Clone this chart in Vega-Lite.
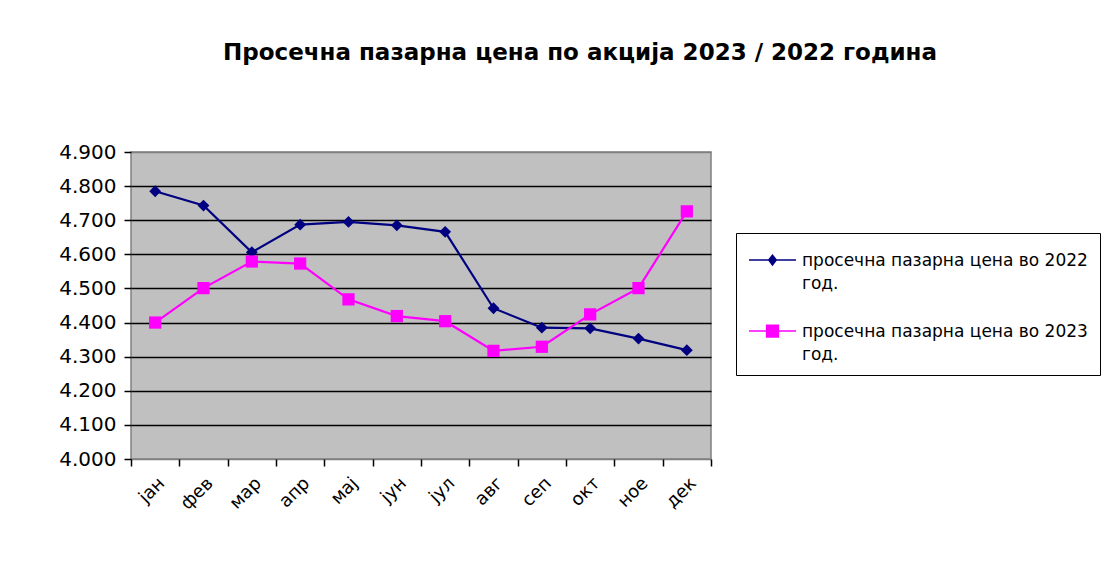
{
  "$schema": "https://vega.github.io/schema/vega-lite/v6.json",
  "width": 580,
  "height": 307,
  "autosize": {"type": "none"},
  "padding": {"left": 131, "top": 152, "right": 395, "bottom": 113},
  "background": "white",
  "title": {
    "text": "Просечна пазарна цена по акција 2023 / 2022 година",
    "font": "DejaVu Sans",
    "fontSize": 23,
    "fontWeight": "bold",
    "color": "black",
    "anchor": "middle",
    "frame": "group",
    "dx": 159,
    "baseline": "alphabetic",
    "offset": 59
  },
  "config": {
    "view": {"fill": "#c0c0c0", "stroke": "#808080", "strokeWidth": 1.5},
    "font": "DejaVu Sans"
  },
  "data": {
    "values": [
      {"month": "јан", "series": "просечна пазарна цена во 2022 год.", "value": 4.785},
      {"month": "фев", "series": "просечна пазарна цена во 2022 год.", "value": 4.743},
      {"month": "мар", "series": "просечна пазарна цена во 2022 год.", "value": 4.606},
      {"month": "апр", "series": "просечна пазарна цена во 2022 год.", "value": 4.687},
      {"month": "мај", "series": "просечна пазарна цена во 2022 год.", "value": 4.695},
      {"month": "јун", "series": "просечна пазарна цена во 2022 год.", "value": 4.685},
      {"month": "јул", "series": "просечна пазарна цена во 2022 год.", "value": 4.666},
      {"month": "авг", "series": "просечна пазарна цена во 2022 год.", "value": 4.442},
      {"month": "сеп", "series": "просечна пазарна цена во 2022 год.", "value": 4.385},
      {"month": "окт", "series": "просечна пазарна цена во 2022 год.", "value": 4.383},
      {"month": "ное", "series": "просечна пазарна цена во 2022 год.", "value": 4.353},
      {"month": "дек", "series": "просечна пазарна цена во 2022 год.", "value": 4.319},
      {"month": "јан", "series": "просечна пазарна цена во 2023 год.", "value": 4.400},
      {"month": "фев", "series": "просечна пазарна цена во 2023 год.", "value": 4.501},
      {"month": "мар", "series": "просечна пазарна цена во 2023 год.", "value": 4.579},
      {"month": "апр", "series": "просечна пазарна цена во 2023 год.", "value": 4.573},
      {"month": "мај", "series": "просечна пазарна цена во 2023 год.", "value": 4.468},
      {"month": "јун", "series": "просечна пазарна цена во 2023 год.", "value": 4.419},
      {"month": "јул", "series": "просечна пазарна цена во 2023 год.", "value": 4.404},
      {"month": "авг", "series": "просечна пазарна цена во 2023 год.", "value": 4.317},
      {"month": "сеп", "series": "просечна пазарна цена во 2023 год.", "value": 4.329},
      {"month": "окт", "series": "просечна пазарна цена во 2023 год.", "value": 4.424},
      {"month": "ное", "series": "просечна пазарна цена во 2023 год.", "value": 4.501},
      {"month": "дек", "series": "просечна пазарна цена во 2023 год.", "value": 4.726}
    ]
  },
  "encoding": {
    "x": {
      "field": "month",
      "type": "nominal",
      "sort": ["јан", "фев", "мар", "апр", "мај", "јун", "јул", "авг", "сеп", "окт", "ное", "дек"],
      "bandPosition": 0.5,
      "scale": {"type": "band", "paddingInner": 0, "paddingOuter": 0},
      "axis": {
        "title": null,
        "domain": false,
        "grid": false,
        "tickBand": "extent",
        "ticks": true,
        "tickColor": "black",
        "tickWidth": 1.5,
        "tickSize": 7,
        "labelAngle": -45,
        "labelFont": "DejaVu Sans",
        "labelFontSize": 18,
        "labelColor": "black",
        "labelPadding": 8
      }
    },
    "y": {
      "field": "value",
      "type": "quantitative",
      "scale": {"domain": [4.0, 4.9], "nice": false, "zero": false},
      "axis": {
        "title": null,
        "values": [4.0, 4.1, 4.2, 4.3, 4.4, 4.5, 4.6, 4.7, 4.8, 4.9],
        "format": ".3f",
        "domain": false,
        "grid": true,
        "gridColor": {"condition": {"test": "datum.value <= 4.0001 || datum.value >= 4.8999", "value": "#808080"}, "value": "black"},
        "gridWidth": 1.5,
        "gridOpacity": 1,
        "ticks": true,
        "tickColor": "black",
        "tickWidth": 1.5,
        "tickSize": 7,
        "labelFont": "DejaVu Sans",
        "labelFontSize": 20,
        "labelColor": "black",
        "labelPadding": 8
      }
    },
    "color": {
      "field": "series",
      "type": "nominal",
      "scale": {
        "domain": ["просечна пазарна цена во 2022 год.", "просечна пазарна цена во 2023 год."],
        "range": ["#000080", "#ff00ff"]
      },
      "legend": null
    }
  },
  "layer": [
    {
      "mark": {"type": "line", "strokeWidth": 2.2},
      "encoding": {
        "color": {
          "field": "series",
          "type": "nominal",
          "scale": {
            "domain": ["просечна пазарна цена во 2022 год.", "просечна пазарна цена во 2023 год."],
            "range": ["#000080", "#ff00ff"]
          },
          "legend": {
            "title": null,
            "orient": "none",
            "legendX": 605,
            "legendY": 81,
            "strokeColor": "black",
            "fillColor": "white",
            "padding": 12,
            "symbolSize": 2209,
            "labelFont": "DejaVu Sans",
            "labelFontSize": 17,
            "labelColor": "black",
            "labelOffset": 5,
            "labelLimit": 400,
            "rowPadding": 24,
            "labelExpr": "[substring(datum.label, 0, 29), substring(datum.label, 30)]",
            "labelBaseline": "top",
            "encode": {
              "symbols": {
                "update": {
                  "shape": {"signal": "datum.value === 'просечна пазарна цена во 2022 год.' ? 'M-1,-0.4H1M0,-0.61L0.16,-0.4L0,-0.19L-0.16,-0.4Z' : 'M-1,-0.4H1M-0.25,-0.65H0.25V-0.15H-0.25Z'"},
                  "fill": {"signal": "datum.value === 'просечна пазарна цена во 2022 год.' ? '#000080' : '#ff00ff'"},
                  "stroke": {"signal": "datum.value === 'просечна пазарна цена во 2022 год.' ? '#000080' : '#ff00ff'"},
                  "strokeWidth": {"value": 1.5},
                  "opacity": {"value": 1}
                }
              },
              "labels": {
                "update": {
                  "dy": {"value": -17},
                  "lineHeight": {"value": 23}
                }
              }
            }
          }
        }
      }
    },
    {
      "transform": [{"filter": "datum.series === 'просечна пазарна цена во 2022 год.'"}],
      "mark": {"type": "point", "filled": true, "opacity": 1, "shape": "diamond", "size": 140}
    },
    {
      "transform": [{"filter": "datum.series === 'просечна пазарна цена во 2023 год.'"}],
      "mark": {"type": "point", "filled": true, "opacity": 1, "shape": "square", "size": 150}
    }
  ]
}
